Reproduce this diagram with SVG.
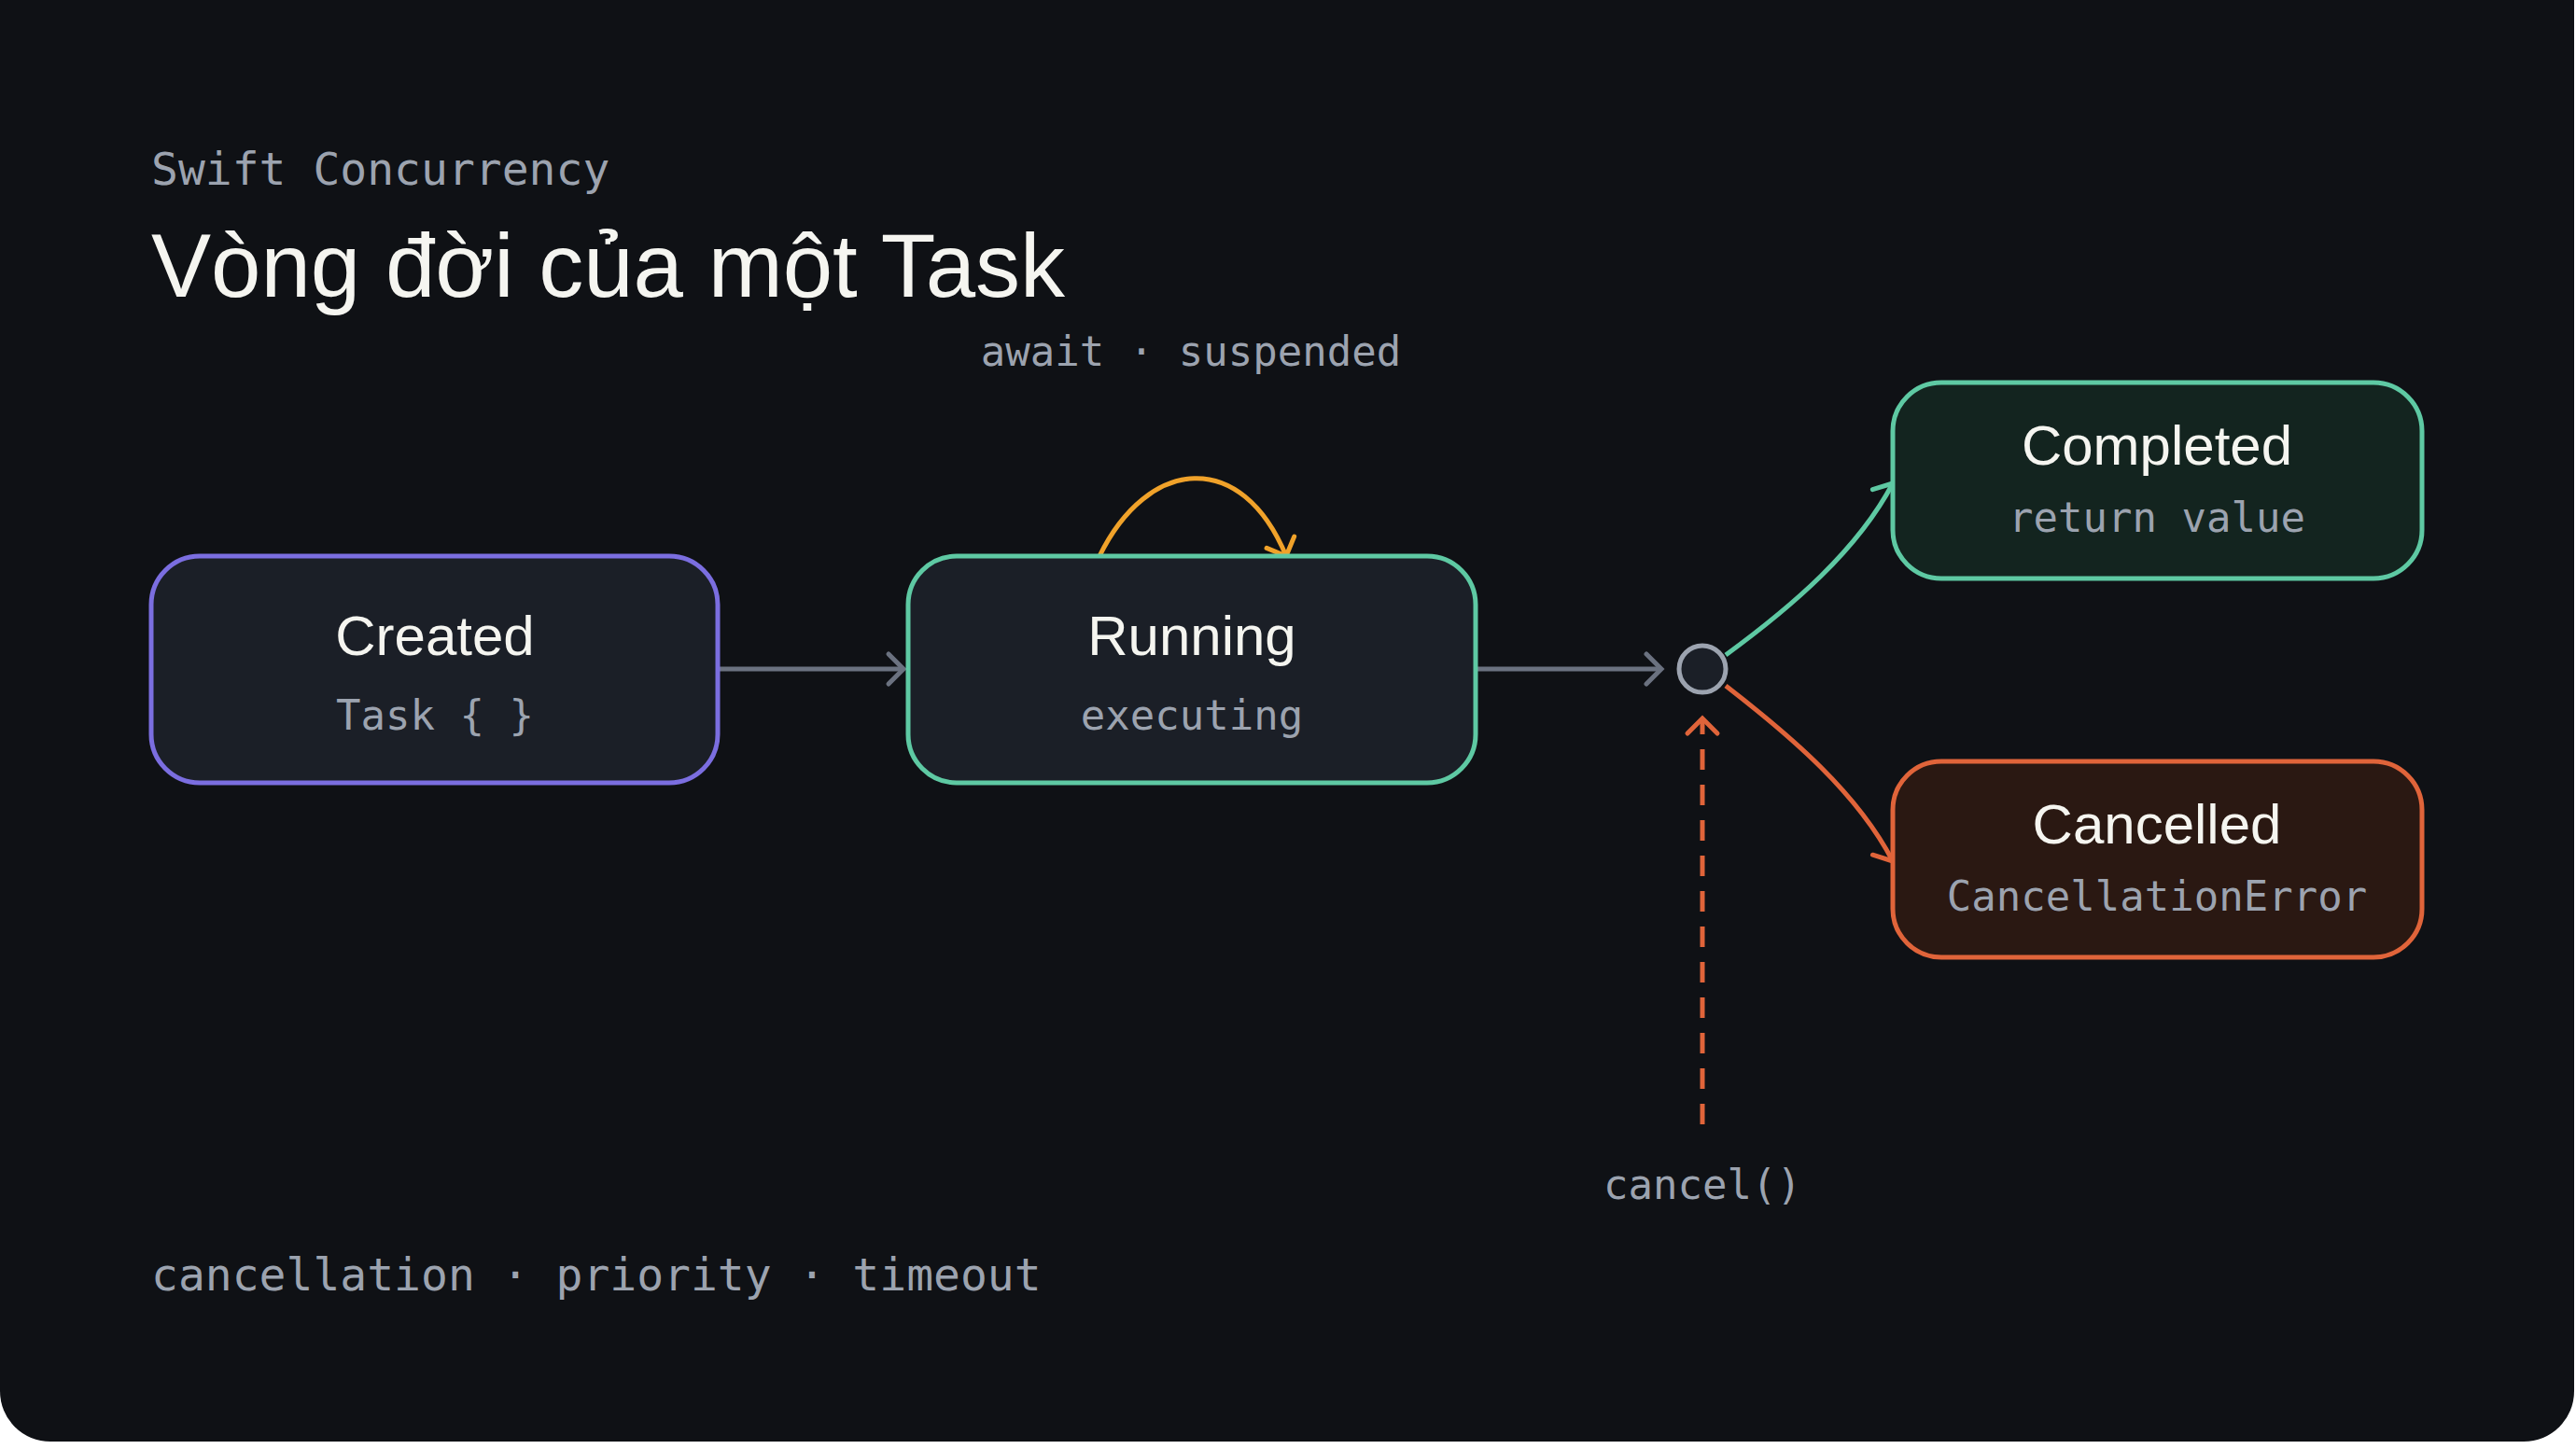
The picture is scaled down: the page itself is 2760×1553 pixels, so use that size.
<svg xmlns="http://www.w3.org/2000/svg" width="2760" height="1553" viewBox="0 0 2760 1553">
<style>
.mono{font-family:"DejaVu Sans Mono","Liberation Mono",monospace;fill:#9ca3af}
.sans{font-family:"Liberation Sans",Arial,sans-serif;fill:#f5f5f0}
.node{stroke-width:5}
.t{font-size:60px;text-anchor:middle}
.s{font-size:44px;text-anchor:middle}
</style>
<defs>
<marker id="ag" markerUnits="userSpaceOnUse" markerWidth="40" markerHeight="40" refX="30" refY="20" orient="auto"><path d="M14,4 L30,20 L14,36" fill="none" stroke="#6b7280" stroke-width="5" stroke-linecap="round"/></marker>
<marker id="at" markerUnits="userSpaceOnUse" markerWidth="40" markerHeight="40" refX="30" refY="20" orient="auto"><path d="M14,4 L30,20 L14,36" fill="none" stroke="#5ec9a3" stroke-width="5" stroke-linecap="round"/></marker>
<marker id="ao" markerUnits="userSpaceOnUse" markerWidth="40" markerHeight="40" refX="30" refY="20" orient="auto"><path d="M14,4 L30,20 L14,36" fill="none" stroke="#e0643a" stroke-width="5" stroke-linecap="round"/></marker>
<marker id="ay" markerUnits="userSpaceOnUse" markerWidth="40" markerHeight="40" refX="30" refY="20" orient="auto"><path d="M14,4 L30,20 L14,36" fill="none" stroke="#f0a22a" stroke-width="5" stroke-linecap="round"/></marker>
</defs>
<rect x="0" y="0" width="2760" height="1553" fill="#ffffff"/>
<rect x="0" y="-60" width="2758" height="1605" rx="54" fill="#0f1115"/>
<text class="mono" x="162" y="198" font-size="48">Swift Concurrency</text>
<text class="sans" x="162" y="318" font-size="96">Vòng đời của một Task</text>
<text class="mono s" x="1276" y="392">await · suspended</text>
<text class="mono" x="162" y="1383" font-size="48">cancellation · priority · timeout</text>
<text class="mono s" x="1824" y="1285">cancel()</text>
<g id="connectors" fill="none" stroke-width="5">
<path d="M769,717 L968,717" stroke="#6b7280" marker-end="url(#ag)"/>
<path d="M1581,717 L1780,717" stroke="#6b7280" marker-end="url(#ag)"/>
<path d="M1178,596 C1230,490 1330,480 1378,596" stroke="#f0a22a" marker-end="url(#ay)"/>
<path d="M1849,702 C1920,650 1990,590 2028,518" stroke="#5ec9a3" marker-end="url(#at)"/>
<path d="M1849,735 C1920,790 1990,850 2028,923" stroke="#e0643a" marker-end="url(#ao)"/>
<path d="M1824,1205 L1824,770" stroke="#e0643a" stroke-dasharray="22,16" marker-end="url(#ao)"/>
</g>
<g id="created"><rect class="node" x="162" y="596" width="607" height="243" rx="52" fill="#1b1f27" stroke="#7b6ee0"/>
<text class="sans t" x="466" y="702">Created</text><text class="mono s" x="466" y="782">Task { }</text></g>
<g id="running"><rect class="node" x="973" y="596" width="608" height="243" rx="52" fill="#1b1f27" stroke="#5ec9a3"/>
<text class="sans t" x="1277" y="702">Running</text><text class="mono s" x="1277" y="782">executing</text></g>
<g id="junction"><circle cx="1824" cy="717" r="25" fill="#1b1f27" stroke="#9ca3af" stroke-width="5"/></g>
<g id="completed"><rect class="node" x="2028" y="410" width="567" height="210" rx="52" fill="#13241f" stroke="#5ec9a3"/>
<text class="sans t" x="2311" y="498">Completed</text><text class="mono s" x="2311" y="570">return value</text></g>
<g id="cancelled"><rect class="node" x="2028" y="816" width="567" height="210" rx="52" fill="#2a1812" stroke="#e0643a"/>
<text class="sans t" x="2311" y="904">Cancelled</text><text class="mono s" x="2311" y="976">CancellationError</text></g>
</svg>
